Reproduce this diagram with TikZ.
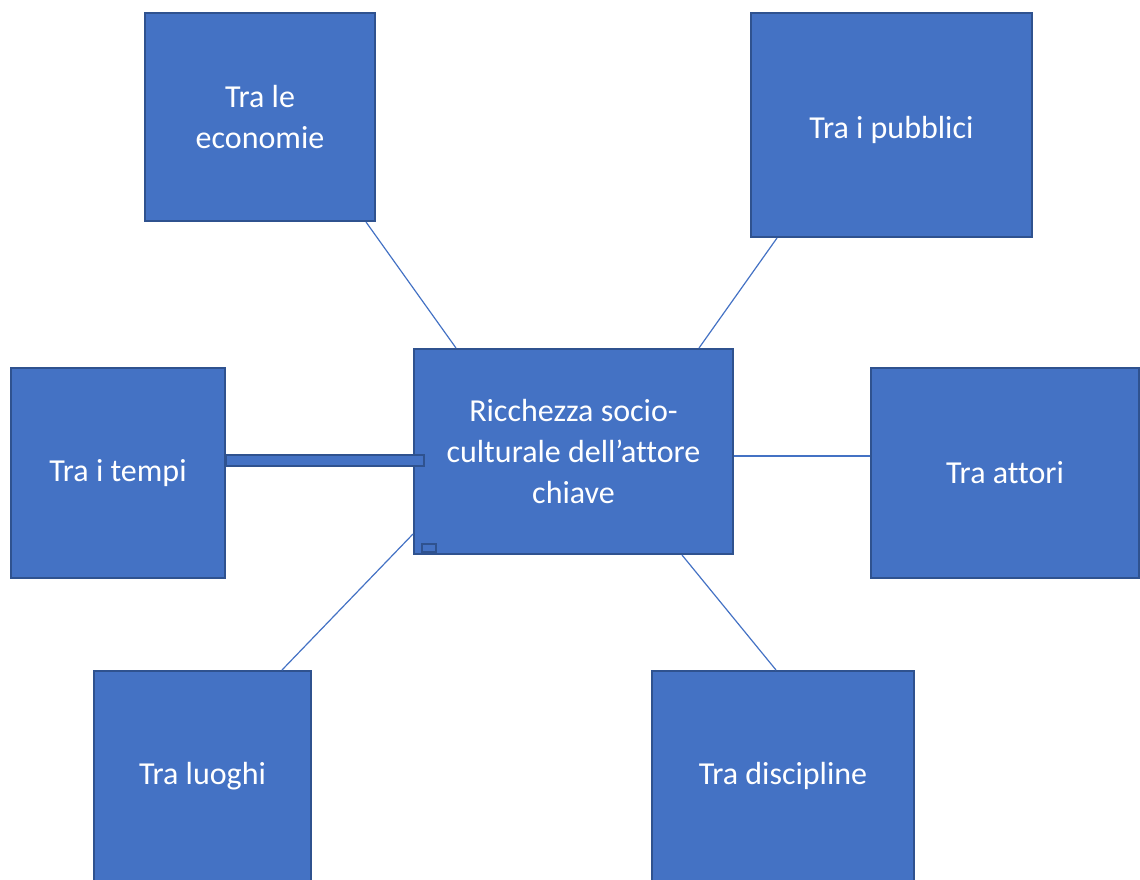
\documentclass[tikz,border=0pt]{standalone}
\usepackage{fontspec}
\setmainfont[Ligatures=NoCommon,Contextuals=NoAlternate]{Carlito}
\usetikzlibrary{calc}
\definecolor{boxfill}{HTML}{4472C4}
\definecolor{boxline}{HTML}{2F528F}
\begin{document}
\begin{tikzpicture}[x=1pt,y=-1pt,
  box/.style={draw=boxline, fill=boxfill, line width=2pt, text=white, inner sep=0pt, align=center, font=\fontsize{32}{41}\selectfont},
  link/.style={draw=boxfill, line width=1.2pt}]
\useasboundingbox (0,0) rectangle (1140,879);
\clip (0,0) rectangle (1140,879);
\node[box, minimum width=230pt, minimum height=208pt] (econ) at (260,117) {Tra le\\economie};
\node[box, minimum width=281pt, minimum height=224pt, text height=33pt, text depth=7pt] (pubb) at (891.5,125) {Tra i pubblici};
\node[box, minimum width=214pt, minimum height=210pt] (tempi) at (118,473) {Tra i tempi};
\node[box, minimum width=268pt, minimum height=210pt] (attori) at (1005,473) {Tra attori};
\node[box, minimum width=217pt, minimum height=210pt] (luoghi) at (202.5,776) {Tra luoghi};
\node[box, minimum width=262pt, minimum height=210pt] (disc) at (783,776) {Tra discipline};
\node[box, minimum width=319pt, minimum height=205pt] (centre) at (573.5,451.5) {Ricchezza socio-\\culturale dell’attore\\chiave};
\draw[link] ($(econ.south east)+(-10,0)$) -- ($(centre.north west)+(43,0)$);
\draw[link] ($(pubb.south west)+(27,0)$) -- ($(centre.north east)+(-35,0)$);
\draw[link] (centre.east |- 0,456) -- (attori.west |- 0,456);
\draw[link] ($(centre.south east)+(-52,0)$) -- ($(disc.north)+(-7,0)$);
\draw[link] ($(luoghi.north)+(79.5,0)$) -- ($(centre.south west)+(0,-21)$);
\node[draw=boxline, fill=boxfill, line width=2pt, inner sep=0pt, minimum width=198pt, minimum height=11pt, anchor=west] (bar) at (225,460.5) {};
\node[draw=boxline, fill=boxfill, line width=1.5pt, inner sep=0pt, minimum width=14pt, minimum height=8pt] (small) at (429,548) {};
\end{tikzpicture}
\end{document}
